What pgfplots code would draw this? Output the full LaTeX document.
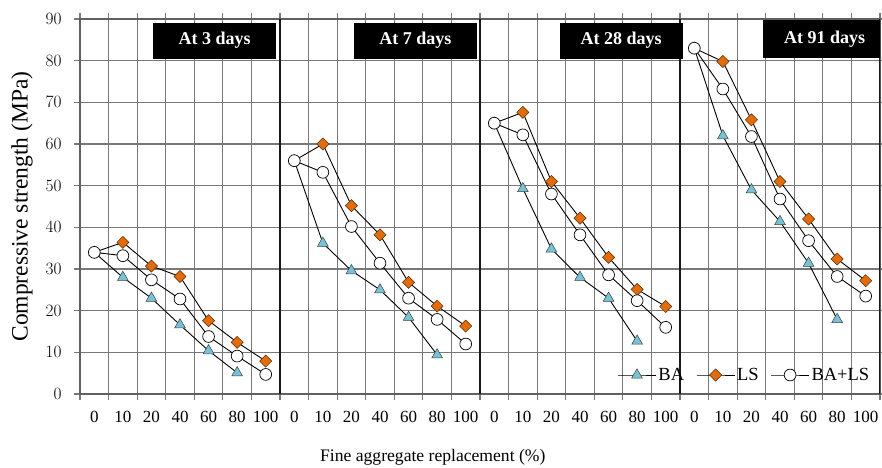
\documentclass[border=0pt]{standalone}
\usepackage{fontspec}
\setmainfont{Liberation Serif}
\usepackage{pgfplots}
\usepackage{pgfplotstable}
\pgfplotsset{compat=1.18}

\definecolor{baFill}{RGB}{120,194,214}
\definecolor{lsFill}{RGB}{226,108,12}
\definecolor{gridgray}{RGB}{120,120,120}

% x = 7*panel + index + 0.5 ; replacement levels 0,10,20,40,60,80,100 %
\pgfplotstableread{
x BA LS BALS
0.5 34 34 34
1.5 28 36.4 33.2
2.5 23 30.7 27.4
3.5 16.6 28.2 22.8
4.5 10.4 17.6 13.8
5.5 5.1 12.4 9.1
6.5 nan 7.9 4.7
}\dayiii
\pgfplotstableread{
x BA LS BALS
7.5 56 56 56
8.5 36.2 60 53.2
9.5 29.6 45.2 40.2
10.5 25 38.2 31.4
11.5 18.4 26.8 23
12.5 9.4 21.1 17.9
13.5 nan 16.3 12
}\dayvii
\pgfplotstableread{
x BA LS BALS
14.5 65 65 65
15.5 49.3 67.6 62.2
16.5 34.8 51 48
17.5 28 42.2 38.2
18.5 23 32.8 28.6
19.5 12.7 25.1 22.4
20.5 nan 21 16
}\dayxxviii
\pgfplotstableread{
x BA LS BALS
21.5 83 83 83
22.5 62 79.8 73.2
23.5 49 65.8 61.8
24.5 41.4 51 46.8
25.5 31.4 42 36.8
26.5 17.9 32.4 28.2
27.5 nan 27.2 23.5
}\dayxci

\begin{document}
\begin{tikzpicture}
\begin{axis}[
  at={(0,0)}, anchor=south west,
  scale only axis, width=800pt, height=375pt,
  xmin=0, xmax=28, ymin=0, ymax=90,
  ytick={0,10,...,90},
  xtick={0.5,1.5,...,27.5},
  xticklabels={0,10,20,40,60,80,100,0,10,20,40,60,80,100,0,10,20,40,60,80,100,0,10,20,40,60,80,100},
  minor xtick={0,1,...,28},
  major x tick style={draw=none},
  xminorgrids=true, ymajorgrids=true,
  major grid style={gridgray, line width=1.2pt},
  minor grid style={gridgray, line width=1.2pt},
  tick align=outside,
  major tick length=6pt, minor tick length=6pt,
  tick style={gridgray, line width=1.2pt},
  axis line style={gridgray!80!black, line width=1.2pt},
  unbounded coords=jump,
  tick label style={font=\fontsize{17}{19}\selectfont},
  xticklabel style={anchor=base, yshift=-22pt},
  yticklabel style={xshift=-9pt},
  xlabel={Fine aggregate replacement (\%)},
  ylabel={Compressive strength (MPa)},
  xlabel style={at={(axis description cs:0.441,-0.1787)}, anchor=base, font=\fontsize{17.6}{20}\selectfont},
  ylabel style={at={(axis description cs:-0.0725,0.5)}, anchor=center, font=\fontsize{23.5}{26}\selectfont},
  legend style={at={(axis cs:27.7,4.56)}, anchor=east, draw=none, fill=none, inner sep=0pt,
    font=\fontsize{18.5}{20}\selectfont, /tikz/every even column/.append style={column sep=10pt}},
  legend columns=3,
  legend image code/.code={\draw[mark repeat=2,mark phase=2,#1] plot coordinates {(0pt,0pt) (19pt,0pt) (38pt,0pt)};},
  ba/.style={black, line width=0.9pt, mark=triangle*, mark size=6.2pt, mark options={fill=baFill, draw=black!75, line width=0.5pt}},
  ls/.style={black, line width=0.9pt, mark=square*, mark size=4.3pt, mark options={rotate=45, fill=lsFill, draw=black!60!lsFill, line width=0.5pt}},
  bals/.style={black, line width=0.9pt, mark=*, mark size=5.9pt, mark options={fill=white, draw=black, line width=0.7pt}},
]
% panel separators
\draw[black!90, line width=2pt] (axis cs:7,0) -- (axis cs:7,90);
\draw[black!90, line width=2pt] (axis cs:14,0) -- (axis cs:14,90);
\draw[black!90, line width=2pt] (axis cs:21,0) -- (axis cs:21,90);
\draw[black!90, line width=2pt] (axis cs:28,0) -- (axis cs:28,90);

\addplot[ba] table[x=x, y=BA] {\dayiii};
\addlegendentry{BA}
\addplot[ls] table[x=x, y=LS] {\dayiii};
\addlegendentry{LS}
\addplot[bals] table[x=x, y=BALS] {\dayiii};
\addlegendentry{BA+LS}

\addplot[ba, forget plot] table[x=x, y=BA] {\dayvii};
\addplot[ls, forget plot] table[x=x, y=LS] {\dayvii};
\addplot[bals, forget plot] table[x=x, y=BALS] {\dayvii};

\addplot[ba, forget plot] table[x=x, y=BA] {\dayxxviii};
\addplot[ls, forget plot] table[x=x, y=LS] {\dayxxviii};
\addplot[bals, forget plot] table[x=x, y=BALS] {\dayxxviii};

\addplot[ba, forget plot] table[x=x, y=BA] {\dayxci};
\addplot[ls, forget plot] table[x=x, y=LS] {\dayxci};
\addplot[bals, forget plot] table[x=x, y=BALS] {\dayxci};

\tikzset{daybox/.style={fill=black, text=white, inner sep=0pt, minimum width=123pt, minimum height=36pt, font=\fontsize{18}{20}\selectfont\bfseries}}
\node[daybox] at (axis cs:4.71,84.84) {At 3 days};
\node[daybox] at (axis cs:11.74,84.84) {At 7 days};
\node[daybox] at (axis cs:18.94,84.84) {At 28 days};
\node[daybox, minimum height=38pt] at (axis cs:26.06,85.2) {At 91 days};
\end{axis}
\pgfresetboundingbox
\useasboundingbox (-80pt,-73pt) rectangle (802pt,394pt);
\end{tikzpicture}
\end{document}
